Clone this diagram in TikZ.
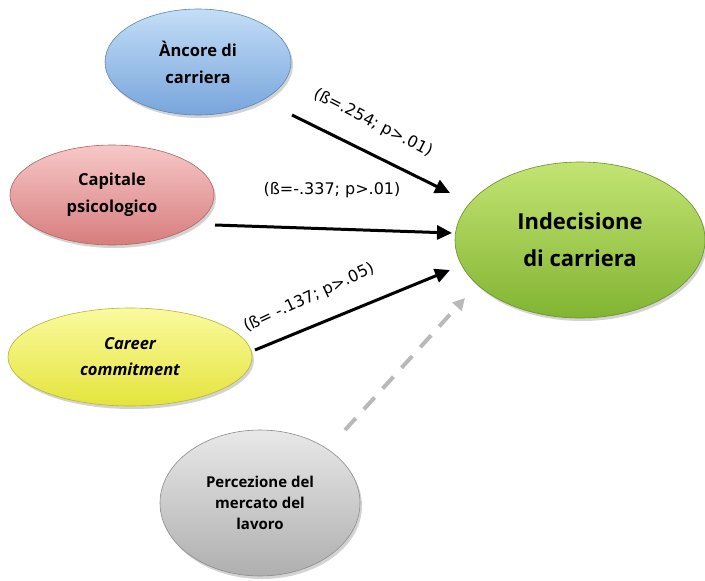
\documentclass[tikz,border=0pt]{standalone}
\usepackage{fontspec}
\setmainfont{DejaVu Sans}
\newfontfamily\nodefont{Open Sans}
\usetikzlibrary{shapes.geometric,shadows,arrows.meta}
\definecolor{blueA}{RGB}{120,165,220}
\definecolor{blueB}{RGB}{195,222,247}
\definecolor{pinkA}{RGB}{215,125,125}
\definecolor{pinkB}{RGB}{247,200,200}
\definecolor{yelA}{RGB}{228,228,60}
\definecolor{yelB}{RGB}{250,250,160}
\definecolor{grayA}{RGB}{175,175,175}
\definecolor{grayB}{RGB}{232,232,232}
\definecolor{greenA}{RGB}{130,180,50}
\definecolor{greenB}{RGB}{195,228,115}
\tikzset{
  bubble/.style={ellipse, inner sep=0pt, align=center,
    drop shadow={shadow xshift=2pt, shadow yshift=-3pt, opacity=0.35},
    draw=#1A!80!black, line width=0.6pt, top color=#1B, bottom color=#1A},
  path/.style={line width=3pt, -{Triangle[length=15pt,width=14pt]}},
  lbl/.style={font=\fontsize{16}{18}\selectfont, inner sep=0pt}
}
\begin{document}
\begin{tikzpicture}[x=1pt,y=-1pt]
\useasboundingbox (0,0) rectangle (705,581);
\node[bubble=blue, minimum width=186pt, minimum height=106pt, font=\nodefont\bfseries\fontsize{16.5}{27}\selectfont] (anc) at (198,62) {Àncore di\\carriera};
\node[bubble=pink, minimum width=204pt, minimum height=100pt, font=\nodefont\bfseries\fontsize{16.5}{27}\selectfont] (cap) at (112,195) {Capitale\\psicologico};
\node[bubble=yel, minimum width=244pt, minimum height=98pt, font=\nodefont\bfseries\itshape\fontsize{16.5}{26}\selectfont] (car) at (130,357) {Career\\commitment};
\node[bubble=gray, minimum width=200pt, minimum height=146pt, font=\nodefont\bfseries\fontsize{15}{21}\selectfont] (per) at (260,503) {Percezione del\\mercato del\\lavoro};
\node[bubble=green, minimum width=250pt, minimum height=156pt, font=\nodefont\bfseries\fontsize{22}{37}\selectfont] (ind) at (580,240) {Indecisione\\di carriera};
\coordinate (s1) at (292,115);
\coordinate (e1) at (450,193);
\coordinate (s2) at (215,225);
\coordinate (e2) at (452,233);
\coordinate (s3) at (255,350);
\coordinate (e3) at (450,270);
\coordinate (s4) at (345,430);
\coordinate (e4) at (465,298);
\draw[path] (s1) -- (e1);
\draw[path] (s2) -- (e2);
\draw[path] (s3) -- (e3);
\draw[line width=4pt, gray!55, dash pattern=on 16pt off 12pt, -{Triangle[length=12pt,width=12pt]}] (s4) -- (e4);
\node[lbl, rotate=-27] (l1) at (373,123) {(ß=.254; p>.01)};
\node[lbl] (l2) at (332,190) {(ß=-.337; p>.01)};
\node[lbl, rotate=25] (l3) at (309,298) {(ß= -.137; p>.05)};
\end{tikzpicture}
\end{document}
